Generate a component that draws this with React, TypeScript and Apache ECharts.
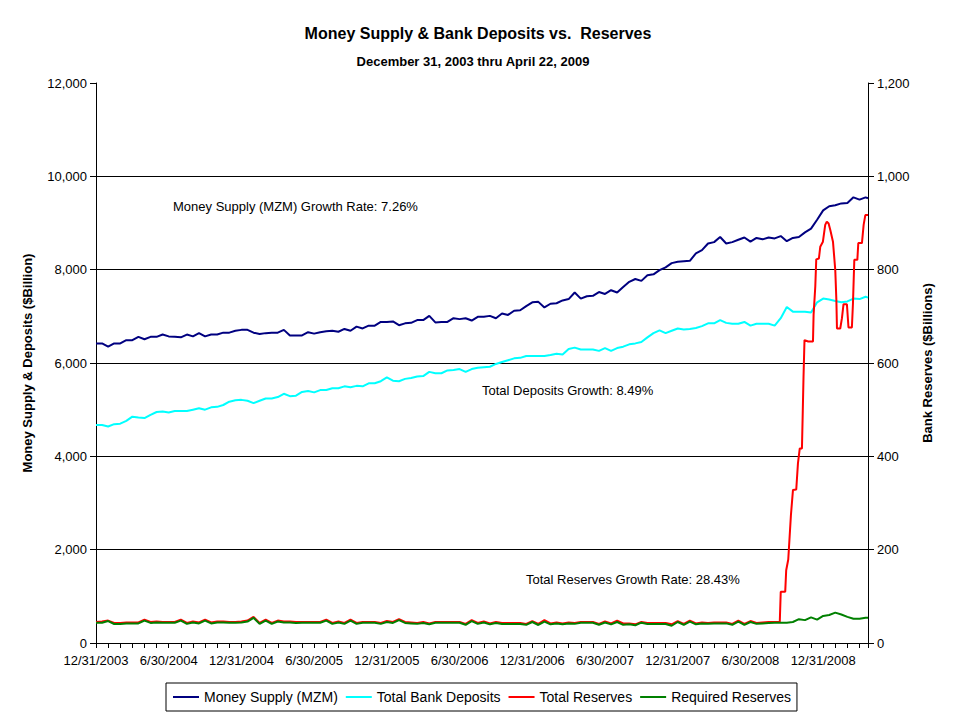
import React, { useEffect, useRef } from "react";
import * as echarts from "echarts";

const FONT = "'Liberation Sans', Arial, sans-serif";

// X axis: month offsets from 12/31/2003 (0) to 4/22/2009 (63.7)
const xTickLabels = [
  "12/31/2003", "6/30/2004", "12/31/2004", "6/30/2005", "12/31/2005", "6/30/2006",
  "12/31/2006", "6/30/2007", "12/31/2007", "6/30/2008", "12/31/2008",
];
const X_MAX = 63.7;
// sample months: every half month, plus final date
const sampleMonths: number[] = Array.from({ length: 128 }, (_, i) => i * 0.5).concat([63.7]);

const seriesNames = ["Money Supply (MZM)", "Total Bank Deposits", "Total Reserves", "Required Reserves"];

// $Billion (left axis)
const moneySupply = [
  6420, 6420, 6350, 6420, 6420, 6490, 6490, 6560, 6510, 6560,
  6560, 6610, 6570, 6560, 6550, 6610, 6570, 6640, 6570, 6610,
  6610, 6650, 6650, 6690, 6710, 6710, 6650, 6620, 6640, 6650,
  6650, 6710, 6590, 6590, 6590, 6660, 6630, 6660, 6680, 6690,
  6670, 6730, 6690, 6780, 6740, 6800, 6800, 6880, 6880, 6890,
  6810, 6850, 6860, 6920, 6920, 7010, 6870, 6880, 6880, 6960,
  6940, 6960, 6910, 6990, 6990, 7010, 6960, 7060, 7030, 7120,
  7130, 7220, 7300, 7310, 7190, 7270, 7280, 7340, 7370, 7510,
  7380, 7430, 7440, 7520, 7480, 7560, 7510, 7630, 7740, 7800,
  7760, 7880, 7900, 7990, 8050, 8140, 8170, 8180, 8190, 8350,
  8420, 8560, 8590, 8700, 8560, 8590, 8640, 8690, 8600, 8680,
  8650, 8690, 8670, 8720, 8610, 8680, 8700, 8800, 8880, 9070,
  9270, 9360, 9380, 9420, 9430, 9550, 9500, 9550, 9530,
];

const bankDeposits = [
  4670, 4670, 4640, 4690, 4700, 4760, 4850, 4830, 4820, 4890,
  4950, 4960, 4940, 4970, 4970, 4970, 5000, 5030, 5000, 5050,
  5060, 5100, 5170, 5200, 5210, 5190, 5140, 5190, 5240, 5240,
  5270, 5340, 5290, 5300, 5380, 5400, 5370, 5420, 5420, 5460,
  5460, 5500, 5480, 5510, 5500, 5565, 5565, 5610, 5690, 5620,
  5610, 5660, 5680, 5710, 5720, 5810, 5780, 5780, 5840, 5850,
  5870, 5810, 5870, 5900, 5910, 5920, 5980, 6020, 6060, 6100,
  6110, 6150, 6150, 6150, 6150, 6170, 6200, 6180, 6300, 6330,
  6290, 6290, 6290, 6260, 6320, 6260, 6320, 6350, 6400, 6420,
  6450, 6550, 6640, 6700, 6640, 6690, 6740, 6720, 6730, 6750,
  6790, 6850, 6850, 6920, 6860, 6840, 6840, 6880, 6800, 6840,
  6840, 6840, 6800, 6960, 7200, 7100, 7100, 7100, 7080, 7300,
  7380, 7360, 7330, 7300, 7320, 7380, 7370, 7420, 7400,
];

// $Billions (right axis)
const requiredReserves = [
  43.5, 43.5, 47, 40.7, 40.7, 42, 42, 42, 48, 43,
  44, 43.5, 43.5, 43.5, 48, 41, 44, 42, 48, 42,
  44, 44, 43.5, 43.5, 44, 46, 54, 41, 48, 41,
  46, 44, 44, 43, 43.5, 43.5, 43.5, 43.5, 48, 41,
  44, 41, 48, 41, 43.5, 43.5, 43.5, 41, 45, 43,
  49, 43, 42, 41, 43, 40, 43.5, 43.5, 43.5, 43.5,
  43.5, 39, 47, 41, 44, 40, 43, 40.7, 40.7, 40.7,
  40.7, 39, 45, 38.6, 46, 40, 42, 40, 42, 41,
  43.5, 43.5, 43.5, 39, 44, 40, 45, 39, 40, 38,
  43.5, 40.7, 40.7, 40.7, 40.7, 37, 45, 39, 46, 40,
  42, 41, 42, 42, 42, 39, 46, 39, 45, 41,
  42, 43, 43.5, 43.5, 43.5, 45, 51, 49, 55, 50,
  58, 60, 65, 61, 56, 52, 52, 54, 54,
];

// Total reserves, half-month samples up to month 56
const totalReservesBase = [
  45, 46, 48, 43, 43, 44, 44, 44, 50, 45,
  46, 45, 45, 45, 50, 43, 46, 44, 50, 44,
  46, 46, 45, 45, 46, 48, 56, 43, 50, 43,
  48, 46, 46, 45, 45, 45, 45, 45, 50, 43,
  46, 43, 50, 43, 45, 45, 45, 43, 47, 45,
  51, 45, 44, 43, 45, 42, 45, 45, 45, 45,
  45, 41, 49, 43, 46, 42, 45, 43, 43, 43,
  43, 41, 47, 41, 49, 42, 44, 42, 44, 43,
  45, 45, 45, 41, 46, 42, 48, 42, 42, 40,
  45, 43, 43, 43, 43, 40, 47, 41, 48, 42,
  44, 43, 44, 44, 44, 41, 48, 41, 47, 43,
  44, 45, 45,
];
// Total reserves, weekly detail from Sept 2008 on
const totalReservesLateMonths = [
  56.42, 56.5, 56.87, 56.95, 57.12, 57.34, 57.51, 57.78, 57.92, 58.07,
  58.25, 58.32, 58.38, 58.46, 58.77, 59.16, 59.21, 59.35, 59.43, 59.65,
  59.76, 59.98, 60.17, 60.3, 60.45, 60.59, 60.81, 61.0, 61.09, 61.14,
  61.41, 61.55, 61.68, 61.96, 62.09, 62.37, 62.46, 62.57, 62.82, 62.9,
  63.2, 63.34, 63.48, 63.7,
];
const totalReservesLateValues = [
  45, 110, 110, 156, 179, 274, 328, 329, 385, 417,
  417, 499, 571, 649, 646, 646, 703, 764, 822, 824,
  849, 860, 896, 903, 899, 885, 860, 799, 735, 674,
  674, 696, 726, 726, 676, 676, 728, 821, 821, 857,
  857, 896, 917, 917,
];

const annotations = [
  { text: "Money Supply (MZM) Growth Rate: 7.26%", x: 173, y: 206 },
  { text: "Total Deposits Growth: 8.49%", x: 482, y: 390 },
  { text: "Total Reserves Growth Rate: 28.43%", x: 526, y: 579 },
];

const colors = ["#000080", "#00FFFF", "#FF0000", "#008000"];

export default function App() {
  const ref = useRef<HTMLDivElement>(null);
  useEffect(() => {
    if (!ref.current) return;
    const chart = echarts.init(ref.current, null, { renderer: "svg" });
    const pair = (vals: number[]) => vals.map((v, i) => [sampleMonths[i], v]);
    const reserves = pair(totalReservesBase).concat(
      totalReservesLateMonths.map((m, i) => [m, totalReservesLateValues[i]])
    );
    const fmt = (v: number) => Number(v).toLocaleString("en-US");
    const lineSeries = (name: string, data: any, color: string, yAxisIndex: number) => ({
      name,
      type: "line",
      data,
      yAxisIndex,
      symbol: "none",
      showSymbol: false,
      lineStyle: { color, width: 2 },
      itemStyle: { color },
      emphasis: { disabled: true },
    });
    chart.setOption({
      animation: false,
      backgroundColor: "#ffffff",
      textStyle: { fontFamily: FONT },
      grid: { left: 96, right: 88, top: 83, bottom: 76, containLabel: false, outerBoundsMode: "none" },
      xAxis: {
        type: "value",
        min: 0,
        max: X_MAX,
        interval: 1,
        axisLine: { show: true, lineStyle: { color: "#000", width: 1 } },
        axisTick: { show: true, length: 5, lineStyle: { color: "#000" } },
        axisLabel: {
          margin: 11,
          fontSize: 13,
          fontFamily: FONT,
          color: "#000",
          formatter: (v: number) => {
            const r = Math.round(v);
            if (Math.abs(v - r) < 1e-6 && r % 6 === 0) return xTickLabels[r / 6] ?? "";
            return "";
          },
        },
        splitLine: { show: false },
      },
      yAxis: [
        {
          type: "value",
          position: "left",
          min: 0,
          max: 12000,
          interval: 2000,
          name: "Money Supply & Deposits ($Billion)",
          nameLocation: "middle",
          nameGap: 62,
          nameRotate: 90,
          nameTextStyle: { fontSize: 13, fontWeight: "bold", color: "#000", fontFamily: FONT },
          axisLine: { show: true, lineStyle: { color: "#000", width: 1 } },
          axisTick: { show: true, length: 6, lineStyle: { color: "#000" } },
          axisLabel: { margin: 9, fontSize: 13, color: "#000", fontFamily: FONT, formatter: fmt },
          splitLine: { show: true, showMaxLine: false, lineStyle: { color: "#000", width: 1 } },
        },
        {
          type: "value",
          position: "right",
          min: 0,
          max: 1200,
          interval: 200,
          name: "Bank Reserves ($Billions)",
          nameLocation: "middle",
          nameGap: 53,
          nameRotate: 90,
          nameTextStyle: { fontSize: 13, fontWeight: "bold", color: "#000", fontFamily: FONT },
          axisLine: { show: true, lineStyle: { color: "#000", width: 1 } },
          axisTick: { show: true, length: 6, lineStyle: { color: "#000" } },
          axisLabel: { margin: 9, fontSize: 13, color: "#000", fontFamily: FONT, formatter: fmt },
          splitLine: { show: false },
        },
      ],
      legend: {
        left: 166,
        top: 683,
        orient: "horizontal",
        itemWidth: 26,
        itemHeight: 14,
        itemGap: 7,
        padding: [7, 6, 7, 6],
        borderColor: "#000",
        borderWidth: 1,
        backgroundColor: "#fff",
        itemStyle: { opacity: 0 },
        textStyle: { fontSize: 14, color: "#000", fontFamily: FONT },
        data: seriesNames,
      },
      graphic: [
        {
          type: "text",
          x: 478,
          y: 33,
          style: {
            text: "Money Supply & Bank Deposits vs.  Reserves",
            fontSize: 16,
            fontWeight: "bold",
            fontFamily: FONT,
            fill: "#000",
            align: "center",
            verticalAlign: "middle",
          },
        },
        {
          type: "text",
          x: 473,
          y: 61,
          style: {
            text: "December 31, 2003 thru April 22, 2009",
            fontSize: 13,
            fontWeight: "bold",
            fontFamily: FONT,
            fill: "#000",
            align: "center",
            verticalAlign: "middle",
          },
        },
        ...annotations.map((a) => ({
          type: "text",
          x: a.x,
          y: a.y,
          style: {
            text: a.text,
            fontSize: 13,
            fontFamily: FONT,
            fill: "#000",
            align: "left",
            verticalAlign: "middle",
          },
        })),
      ],
      series: [
        lineSeries(seriesNames[0], pair(moneySupply), colors[0], 0),
        lineSeries(seriesNames[1], pair(bankDeposits), colors[1], 0),
        lineSeries(seriesNames[2], reserves, colors[2], 1),
        lineSeries(seriesNames[3], pair(requiredReserves), colors[3], 1),
      ],
    });
    return () => chart.dispose();
  }, []);
  return (
    <div
      ref={ref}
      style={{ position: "fixed", left: 0, top: 0, width: 956, height: 719, background: "#fff" }}
    />
  );
}
